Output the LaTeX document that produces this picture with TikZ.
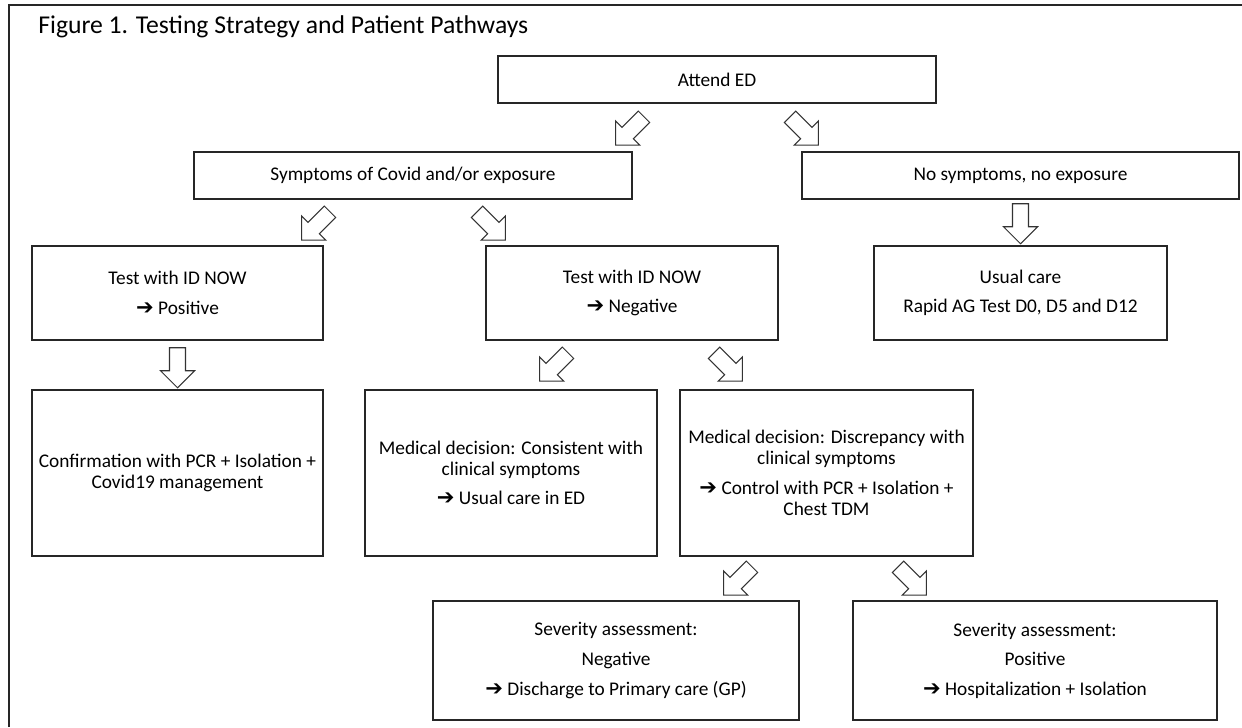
\documentclass[tikz,border=0pt]{standalone}
\usepackage{fontspec}
\setmainfont{Carlito}
\newfontfamily\arrowfont{DejaVu Sans}
\usetikzlibrary{calc}

\newcommand{\goarrow}{{\arrowfont\fontsize{12}{12}\selectfont ➔}\ }

\tikzset{
    box/.style={draw=black!85, line width=0.85pt, align=center, inner sep=2pt,
                font=\fontsize{11}{12}\selectfont},
    blockarr/.pic={
        \draw[draw=black!80, line width=0.6pt, fill=white]
            (-0.16,0) -- (0.16,0) -- (0.16,-0.46) -- (0.34,-0.46) -- (0,-0.80)
            -- (-0.34,-0.46) -- (-0.16,-0.46) -- cycle;
    }
}

\begin{document}
\begin{tikzpicture}
    \useasboundingbox (0,0) rectangle (24.84,-14.54);
    %%% Frame and title
    \draw[line width=0.8pt, black!85] (0.18,-14.54) -- (0.18,-0.10) -- (24.84,-0.10);
    \node[anchor=base west, inner sep=0pt, font=\fontsize{14.6}{16}\selectfont] (title) at (0.76,-0.66)
        {Figure 1. Testing Strategy and Patient Pathways};
    %
    %%% Top rows
    \node[box, minimum width=8.76cm, minimum height=0.94cm] (attend) at (14.34,-1.59) {Attend ED};
    \node[box, minimum width=8.76cm, minimum height=0.94cm] (symp) at (8.26,-3.51) {Symptoms of Covid and/or exposure};
    \node[box, minimum width=8.74cm, minimum height=0.94cm] (nosymp) at (20.41,-3.51) {No symptoms, no exposure};
    %
    \pic[rotate=-45] at ([shift={(-1.46,-0.26)}]attend.south) {blockarr};
    \pic[rotate=45] at ([shift={(1.46,-0.26)}]attend.south) {blockarr};
    %
    %%% Tests
    \node[box, minimum width=5.82cm, minimum height=1.88cm] (testpos) at (3.55,-5.86)
        {Test with ID NOW\\[4.8pt]\goarrow Positive};
    \node[box, minimum width=5.84cm, minimum height=1.88cm] (testneg) at (12.64,-5.86)
        {Test with ID NOW\\[4.8pt]\goarrow Negative};
    \node[box, minimum width=5.86cm, minimum height=1.88cm] (usual) at (20.41,-5.86)
        {Usual care\\[4.8pt]Rapid AG Test D0, D5 and D12};
    %
    \pic[rotate=-45] at ([shift={(-1.66,-0.24)}]symp.south) {blockarr};
    \pic[rotate=45] at ([shift={(1.28,-0.24)}]symp.south) {blockarr};
    \pic at ([shift={(0,-0.08)}]nosymp.south) {blockarr};
    %
    %%% Decisions
    \node[box, minimum width=5.82cm, minimum height=3.32cm] (confirm) at (3.55,-9.46)
        {Confirmation with PCR + Isolation +\\Covid19 management};
    \node[box, minimum width=5.84cm, minimum height=3.32cm] (consist) at (10.22,-9.46)
        {Medical decision: Consistent with\\clinical symptoms\\[4.8pt]\goarrow Usual care in ED};
    \node[box, minimum width=5.86cm, minimum height=3.32cm] (discrep) at (16.53,-9.46)
        {Medical decision: Discrepancy with\\clinical symptoms\\[4.8pt]\goarrow Control with PCR + Isolation +\\Chest TDM};
    %
    \pic at ([shift={(0,-0.14)}]testpos.south) {blockarr};
    \pic[rotate=-45] at ([shift={(-1.28,-0.24)}]testneg.south) {blockarr};
    \pic[rotate=45] at ([shift={(1.64,-0.24)}]testneg.south) {blockarr};
    %
    %%% Severity
    \node[box, minimum width=7.32cm, minimum height=2.38cm] (sevneg) at (12.32,-13.21)
        {Severity assessment:\\[4.8pt]Negative\\[4.8pt]\goarrow Discharge to Primary care (GP)};
    \node[box, minimum width=7.28cm, minimum height=2.38cm] (sevpos) at (20.70,-13.21)
        {Severity assessment:\\[4.8pt]Positive\\[4.8pt]\goarrow Hospitalization + Isolation};
    %
    \pic[rotate=-45] at ([shift={(-1.49,-0.20)}]discrep.south) {blockarr};
    \pic[rotate=45] at ([shift={(1.43,-0.20)}]discrep.south) {blockarr};
\end{tikzpicture}
\end{document}
